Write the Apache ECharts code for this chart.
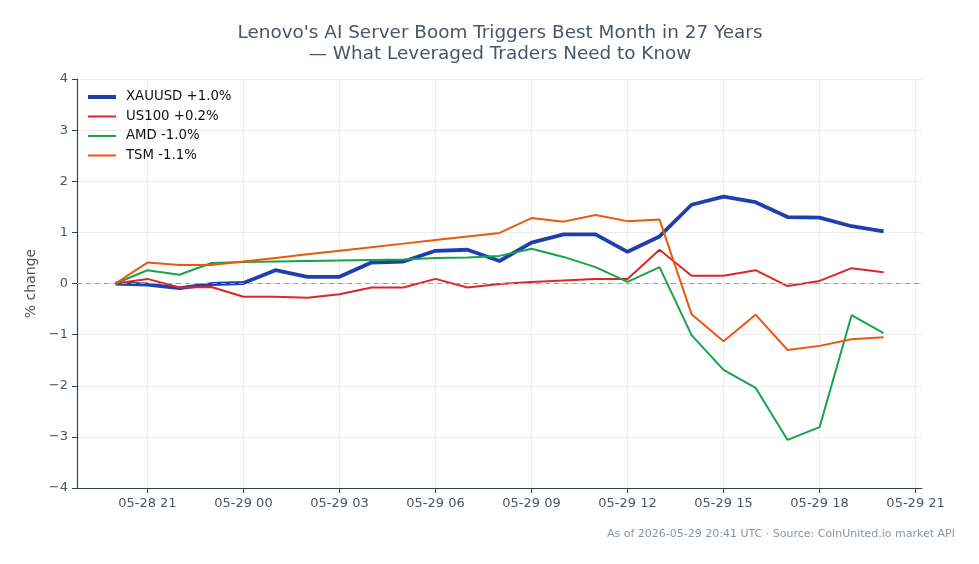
<!DOCTYPE html>
<html>
<head>
<meta charset="utf-8">
<script src="https://cdn.jsdelivr.net/npm/echarts@6/dist/echarts.min.js"></script>
<style>
  html, body { margin: 0; padding: 0; background: #fff; }
  #chart { width: 979px; height: 564px; }
</style>
</head>
<body>
<div id="chart"></div>
<script>
// hourly timestamps (UTC)
const times = [
  '2026-05-28T20:00Z', '2026-05-28T21:00Z', '2026-05-28T22:00Z', '2026-05-28T23:00Z',
  '2026-05-29T00:00Z', '2026-05-29T01:00Z', '2026-05-29T02:00Z', '2026-05-29T03:00Z',
  '2026-05-29T04:00Z', '2026-05-29T05:00Z', '2026-05-29T06:00Z', '2026-05-29T07:00Z',
  '2026-05-29T08:00Z', '2026-05-29T09:00Z', '2026-05-29T10:00Z', '2026-05-29T11:00Z',
  '2026-05-29T12:00Z', '2026-05-29T13:00Z', '2026-05-29T14:00Z', '2026-05-29T15:00Z',
  '2026-05-29T16:00Z', '2026-05-29T17:00Z', '2026-05-29T18:00Z', '2026-05-29T19:00Z',
  '2026-05-29T20:00Z'
]

// % change since start
const xauusd = [0, -0.02, -0.09, -0.01, 0.01, 0.26, 0.13, 0.13, 0.41, 0.43, 0.64, 0.66, 0.44, 0.80, 0.96, 0.96, 0.62, 0.92, 1.54, 1.70, 1.59, 1.30, 1.29, 1.12, 1.02]
const us100 = [0, 0.09, -0.08, -0.07, -0.26, -0.26, -0.28, -0.21, -0.08, -0.08, 0.09, -0.08, -0.01, 0.03, 0.06, 0.09, 0.09, 0.66, 0.15, 0.15, 0.26, -0.05, 0.05, 0.30, 0.22]
const amd = [0, 0.26, 0.17, 0.40, 0.42, 0.43, 0.44, 0.45, 0.46, 0.47, 0.50, 0.51, 0.54, 0.68, 0.52, 0.32, 0.03, 0.32, -1.01, -1.69, -2.04, -3.06, -2.81, -0.62, -0.97]
const tsm = [0, 0.41, 0.36, 0.36, 0.43, 0.50, 0.57, 0.64, 0.71, 0.78, 0.85, 0.92, 0.99, 1.28, 1.21, 1.34, 1.22, 1.25, -0.60, -1.13, -0.61, -1.30, -1.22, -1.09, -1.05]

const seriesNames = ['XAUUSD +1.0%', 'US100 +0.2%', 'AMD -1.0%', 'TSM -1.1%']

// x tick positions (UTC) and y ticks
const xTicks = [
  '2026-05-28T21:00Z', '2026-05-29T00:00Z', '2026-05-29T03:00Z', '2026-05-29T06:00Z',
  '2026-05-29T09:00Z', '2026-05-29T12:00Z', '2026-05-29T15:00Z', '2026-05-29T18:00Z',
  '2026-05-29T21:00Z'
]
const yTicks = [-4, -3, -2, -1, 0, 1, 2, 3, 4]

const ts = times.map(t => Date.parse(t))
const tickTs = xTicks.map(t => Date.parse(t))
const span = ts[ts.length - 1] - ts[0]
const xMin = ts[0] - span * 0.05
const xMax = ts[ts.length - 1] + span * 0.05

const pad = n => String(n).padStart(2, '0')
const fmtTime = v => {
  const d = new Date(v)
  return pad(d.getUTCMonth() + 1) + '-' + pad(d.getUTCDate()) + ' ' + pad(d.getUTCHours())
}

const pairs = arr => arr.map((v, i) => [ts[i], v])

const font = 'DejaVu Sans'
const textColor = '#4b5563'

const chart = echarts.init(document.getElementById('chart'))
chart.setOption({
  animation: false,
  textStyle: { fontFamily: font },
  title: {
    text: "Lenovo's AI Server Boom Triggers Best Month in 27 Years\n— What Leveraged Traders Need to Know",
    left: 495,
    textAlign: 'center',
    top: 18,
    textStyle: { fontFamily: font, fontSize: 18.4, fontWeight: 'normal', color: '#4a5568', lineHeight: 21 }
  },
  legend: {
    orient: 'vertical',
    left: 81,
    top: 85.5,
    itemGap: 6.5,
    itemWidth: 28,
    itemHeight: 13,
    itemStyle: { opacity: 0 },
    textStyle: { fontFamily: font, fontSize: 13.3, color: '#111', padding: [0, 0, 0, 5] },
    data: [
      { name: seriesNames[0], lineStyle: { width: 4 } },
      { name: seriesNames[1], lineStyle: { width: 2 } },
      { name: seriesNames[2], lineStyle: { width: 2 } },
      { name: seriesNames[3], lineStyle: { width: 2 } }
    ]
  },
  grid: { left: 77, right: 57, top: 79, bottom: 76 },
  xAxis: {
    type: 'value',
    min: xMin,
    max: xMax,
    axisLine: { show: true, onZero: false, lineStyle: { color: '#334155', width: 1.2 } },
    axisTick: { show: true, length: 5, lineStyle: { color: '#334155' }, customValues: tickTs },
    axisLabel: {
      customValues: tickTs,
      formatter: v => fmtTime(v),
      color: textColor,
      fontSize: 13,
      margin: 9,
      fontFamily: font
    },
    splitLine: { show: true, lineStyle: { color: '#ececf0', width: 1 } }
  },
  yAxis: {
    type: 'value',
    min: yTicks[0],
    max: yTicks[yTicks.length - 1],
    interval: 1,
    name: '% change',
    nameLocation: 'middle',
    nameGap: 39,
    nameTextStyle: { fontFamily: font, fontSize: 14, color: textColor },
    axisLine: { show: true, onZero: false, lineStyle: { color: '#334155', width: 1.2 } },
    axisTick: { show: true, length: 5, lineStyle: { color: '#334155' } },
    axisLabel: {
      formatter: v => (v < 0 ? '\u2212' + Math.abs(v) : String(v)),
      color: textColor,
      fontSize: 13,
      margin: 9,
      fontFamily: font
    },
    splitLine: { show: true, lineStyle: { color: '#ececf0', width: 1 } }
  },
  series: [
    {
      name: seriesNames[0], type: 'line', data: pairs(xauusd),
      symbol: 'none', lineStyle: { color: '#1e40af', width: 3.8 }, itemStyle: { color: '#1e40af' },
      markLine: {
        silent: true, symbol: 'none', label: { show: false },
        lineStyle: { color: '#94a3b8', type: [5, 4], width: 1 },
        data: [{ yAxis: 0 }]
      },
      z: 3
    },
    {
      name: seriesNames[1], type: 'line', data: pairs(us100),
      symbol: 'none', lineStyle: { color: '#dc2626', width: 2 }, itemStyle: { color: '#dc2626' }, z: 4
    },
    {
      name: seriesNames[2], type: 'line', data: pairs(amd),
      symbol: 'none', lineStyle: { color: '#16a34a', width: 2 }, itemStyle: { color: '#16a34a' }, z: 5
    },
    {
      name: seriesNames[3], type: 'line', data: pairs(tsm),
      symbol: 'none', lineStyle: { color: '#ea580c', width: 2 }, itemStyle: { color: '#ea580c' }, z: 6
    }
  ],
  graphic: [{
    type: 'text',
    right: 24,
    top: 529,
    style: {
      text: 'As of 2026-05-29 20:41 UTC · Source: CoinUnited.io market API',
      fill: '#8a94a6',
      font: '11px "DejaVu Sans"'
    }
  }]
})
</script>
</body>
</html>
